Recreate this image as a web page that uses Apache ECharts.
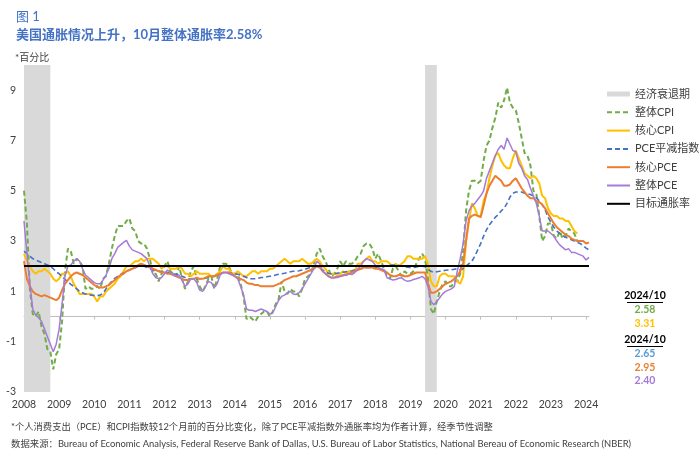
<!DOCTYPE html>
<html><head><meta charset="utf-8">
<script src="https://cdn.jsdelivr.net/npm/echarts@6/dist/echarts.min.js"></script>
<style>html,body{margin:0;padding:0;background:#fff}#c{width:700px;height:456px}</style>
</head><body><div id="c"></div>
<script>
// ---------------- DATA ----------------
// Monthly observations, first month = 2008-09
const firstYear = 2008, firstMonth = 9, monthCount = 194; // through 2024-10
const categories = [];
for (let i = 0; i < monthCount; i++) {
  const m = firstMonth - 1 + i;
  const y = firstYear + Math.floor(m / 12);
  const mm = (m % 12) + 1;
  categories.push(y + '-' + (mm < 10 ? '0' + mm : mm));
}

// 整体CPI (ends 2024-06 in the picture)
const cpiHeadline = [
  5.0, 3.7, 1.1, 0.1,
  0.0, 0.2, -0.4, -0.7, -1.3, -1.4, -2.1, -1.5, -1.3, -0.2, 1.8, 2.7,
  2.6, 2.1, 2.3, 2.2, 2.0, 1.1, 1.2, 1.1, 1.1, 1.2, 1.1, 1.5,
  1.6, 2.1, 2.7, 3.2, 3.6, 3.6, 3.6, 3.8, 3.9, 3.5, 3.4, 3.0,
  2.9, 2.9, 2.7, 2.3, 1.7, 1.7, 1.4, 1.7, 2.0, 2.2, 1.8, 1.7,
  1.6, 2.0, 1.5, 1.1, 1.4, 1.8, 2.0, 1.5, 1.2, 1.0, 1.2, 1.5,
  1.6, 1.1, 1.5, 2.0, 2.1, 2.1, 2.0, 1.7, 1.7, 1.7, 1.3, 0.8,
  -0.1, 0.0, -0.1, -0.2, 0.0, 0.1, 0.2, 0.2, 0.0, 0.2, 0.5, 0.7,
  1.4, 1.0, 0.9, 1.1, 1.0, 1.0, 0.8, 1.1, 1.5, 1.6, 1.7, 2.1,
  2.5, 2.7, 2.4, 2.2, 1.9, 1.6, 1.7, 1.9, 2.2, 2.0, 2.2, 2.1,
  2.1, 2.2, 2.4, 2.5, 2.8, 2.9, 2.9, 2.7, 2.3, 2.5, 2.2, 1.9,
  1.6, 1.5, 1.9, 2.0, 1.8, 1.6, 1.8, 1.7, 1.7, 1.8, 2.1, 2.3,
  2.5, 2.3, 1.5, 0.3, 0.1, 0.6, 1.0, 1.3, 1.4, 1.2, 1.2, 1.4,
  1.4, 1.7, 2.6, 4.2, 5.0, 5.4, 5.4, 5.3, 5.4, 6.2, 6.8, 7.0,
  7.5, 7.9, 8.5, 8.3, 8.6, 9.1, 8.5, 8.3, 8.2, 7.7, 7.1, 6.5,
  6.4, 6.0, 5.0, 4.9, 4.0, 3.0, 3.2, 3.7, 3.7, 3.2, 3.1, 3.4,
  3.1, 3.2, 3.5, 3.4, 3.3, 3.0
];

// 核心CPI
const cpiCore = [
  2.5, 2.2, 2.0, 1.8,
  1.7, 1.8, 1.8, 1.9, 1.8, 1.7, 1.5, 1.4, 1.5, 1.7, 1.7, 1.8,
  1.6, 1.3, 1.1, 0.9, 0.9, 0.9, 0.9, 0.9, 0.8, 0.6, 0.8, 0.8,
  1.0, 1.1, 1.2, 1.3, 1.5, 1.6, 1.8, 2.0, 2.0, 2.1, 2.2, 2.2,
  2.3, 2.2, 2.3, 2.3, 2.3, 2.2, 2.1, 1.9, 2.0, 2.0, 1.9, 1.9,
  1.9, 2.0, 1.9, 1.7, 1.7, 1.6, 1.7, 1.8, 1.7, 1.7, 1.7, 1.7,
  1.6, 1.6, 1.7, 1.8, 2.0, 1.9, 1.9, 1.7, 1.7, 1.8, 1.7, 1.6,
  1.6, 1.7, 1.8, 1.8, 1.7, 1.8, 1.8, 1.8, 1.9, 1.9, 2.0, 2.1,
  2.2, 2.3, 2.2, 2.1, 2.2, 2.2, 2.2, 2.3, 2.2, 2.1, 2.1, 2.2,
  2.3, 2.2, 2.0, 1.9, 1.7, 1.7, 1.7, 1.7, 1.7, 1.8, 1.7, 1.8,
  1.8, 1.8, 2.1, 2.1, 2.2, 2.3, 2.4, 2.2, 2.2, 2.1, 2.2, 2.2,
  2.2, 2.1, 2.0, 2.1, 2.0, 2.1, 2.2, 2.4, 2.4, 2.3, 2.3, 2.3,
  2.3, 2.4, 2.1, 1.4, 1.2, 1.2, 1.6, 1.7, 1.7, 1.6, 1.6, 1.6,
  1.4, 1.3, 1.6, 3.0, 3.8, 4.5, 4.3, 4.0, 4.0, 4.6, 4.9, 5.5,
  6.0, 6.4, 6.5, 6.2, 6.0, 5.9, 5.9, 6.3, 6.6, 6.3, 6.0, 5.7,
  5.6, 5.5, 5.6, 5.5, 5.3, 4.8, 4.7, 4.3, 4.1, 4.0, 4.0, 3.9,
  3.9, 3.8, 3.8, 3.6, 3.4, 3.3
];

// PCE平减指数
const pceDeflator = [
  2.6, 2.5, 2.4, 2.3,
  2.25, 2.2, 2.15, 2.1, 2.05, 2.0, 1.9, 1.78, 1.7, 1.6, 1.48, 1.38,
  1.28, 1.2, 1.1, 1.0, 0.95, 0.9, 0.87, 0.85, 0.84, 0.83, 0.85, 0.92,
  1.1, 1.27, 1.4, 1.52, 1.6, 1.67, 1.73, 1.8, 1.85, 1.9, 1.94, 2.0,
  2.0, 2.0, 1.95, 1.9, 1.85, 1.8, 1.8, 1.8, 1.78, 1.75, 1.72, 1.7,
  1.68, 1.65, 1.6, 1.55, 1.5, 1.5, 1.5, 1.5, 1.5, 1.5, 1.52, 1.55,
  1.58, 1.6, 1.65, 1.7, 1.74, 1.75, 1.75, 1.72, 1.7, 1.68, 1.65, 1.6,
  1.55, 1.5, 1.5, 1.5, 1.52, 1.55, 1.55, 1.58, 1.6, 1.62, 1.65, 1.68,
  1.7, 1.72, 1.75, 1.78, 1.8, 1.8, 1.82, 1.85, 1.88, 1.92, 1.96, 2.0,
  2.0, 1.95, 1.85, 1.78, 1.72, 1.7, 1.7, 1.72, 1.74, 1.76, 1.78, 1.8,
  1.82, 1.85, 1.88, 1.9, 1.92, 1.94, 1.95, 1.95, 1.95, 1.96, 1.98, 2.0,
  2.02, 2.04, 2.05, 2.05, 2.03, 2.0, 1.98, 1.96, 1.95, 1.95, 1.97, 2.0,
  2.0, 1.98, 1.88, 1.8, 1.76, 1.78, 1.8, 1.82, 1.84, 1.85, 1.86, 1.88,
  1.9, 1.85, 1.9, 2.0, 2.1, 2.2, 2.4, 2.65, 2.9, 3.2, 3.45, 3.65,
  3.8, 3.95, 4.05, 4.2, 4.3, 4.5, 4.75, 4.9, 4.95, 4.95, 4.95, 4.9,
  4.88, 4.85, 4.8, 4.72, 4.6, 4.45, 4.25, 3.95, 3.75, 3.55, 3.4, 3.3,
  3.22, 3.15, 3.1, 3.05, 3.0, 2.95, 2.9, 2.82, 2.72, 2.65
];

// 核心PCE
const pceCore = [
  2.2, 1.5, 1.2, 1.0,
  0.9, 0.85, 0.8, 0.85, 0.8, 0.75, 0.7, 0.65, 0.75, 1.05, 1.3, 1.45,
  1.6, 1.7, 1.75, 1.7, 1.65, 1.55, 1.45, 1.35, 1.25, 1.2, 1.15, 1.15,
  1.2, 1.25, 1.35, 1.45, 1.55, 1.65, 1.7, 1.8, 1.85, 1.9, 1.95, 2.05,
  2.1, 2.05, 2.0, 1.95, 1.9, 1.85, 1.8, 1.75, 1.75, 1.7, 1.7, 1.65,
  1.6, 1.55, 1.5, 1.45, 1.45, 1.5, 1.5, 1.55, 1.5, 1.5, 1.55, 1.6,
  1.6, 1.6, 1.65, 1.7, 1.75, 1.75, 1.75, 1.7, 1.6, 1.55, 1.5, 1.45,
  1.35, 1.3, 1.3, 1.25, 1.25, 1.2, 1.2, 1.2, 1.2, 1.2, 1.25, 1.3,
  1.35, 1.45, 1.5, 1.55, 1.6, 1.6, 1.65, 1.7, 1.75, 1.8, 1.85, 1.9,
  2.0, 1.95, 1.8, 1.7, 1.6, 1.55, 1.55, 1.6, 1.6, 1.65, 1.65, 1.7,
  1.75, 1.8, 1.85, 1.9, 1.95, 1.95, 1.95, 1.95, 1.9, 1.9, 1.85, 1.8,
  1.75, 1.65, 1.6, 1.6, 1.65, 1.65, 1.6, 1.6, 1.65, 1.7, 1.75, 1.75,
  1.75, 1.75, 1.3, 0.95, 0.95, 1.0, 1.1, 1.2, 1.3, 1.35, 1.4, 1.5,
  1.6, 1.8, 2.1, 3.0, 3.9, 4.0, 4.05, 4.0, 3.95, 4.4, 4.9, 5.2,
  5.4, 5.6, 5.5, 5.4, 5.2, 5.2, 5.25, 5.4, 5.5, 5.3, 5.1, 4.95,
  4.8, 4.7, 4.7, 4.6, 4.55, 4.45, 4.3, 4.1, 3.9, 3.7, 3.55, 3.45,
  3.35, 3.25, 3.2, 3.1, 3.05, 3.0, 3.0, 3.0, 2.9, 2.95
];

// 整体PCE
const pceHeadline = [
  3.8, 2.5, 1.3, 0.3,
  0.05, -0.05, -0.2, -0.5, -0.8, -1.1, -1.4, -1.1, -0.5, 0.5, 1.6, 2.0,
  2.05, 2.2, 2.3, 2.2, 1.9, 1.65, 1.55, 1.45, 1.35, 1.3, 1.3, 1.45,
  1.65, 1.9, 2.3, 2.5, 2.75, 2.85, 2.95, 3.03, 2.8, 2.65, 2.6, 2.55,
  2.5, 2.4, 2.3, 2.0, 1.7, 1.55, 1.5, 1.55, 1.7, 1.85, 1.75, 1.65,
  1.6, 1.65, 1.45, 1.2, 1.3, 1.5, 1.5, 1.35, 1.05, 1.0, 1.2, 1.4,
  1.35, 1.15, 1.3, 1.65, 1.75, 1.75, 1.7, 1.65, 1.6, 1.5, 1.2, 0.85,
  0.3, 0.25, 0.25, 0.2, 0.25, 0.3, 0.25, 0.2, 0.1, 0.15, 0.4, 0.65,
  0.8, 0.85, 0.95, 1.0, 0.9, 0.88, 0.95, 1.1, 1.3, 1.5, 1.7, 1.9,
  2.2, 2.1, 1.8, 1.7, 1.6, 1.54, 1.54, 1.55, 1.6, 1.62, 1.65, 1.7,
  1.67, 1.75, 1.9, 2.0, 2.2, 2.3, 2.25, 2.2, 2.05, 1.95, 1.9, 1.86,
  1.54, 1.5, 1.45, 1.47, 1.52, 1.54, 1.45, 1.4, 1.42, 1.47, 1.5, 1.54,
  1.6, 1.5, 1.2, 0.6, 0.47, 0.6, 0.75, 0.9, 1.0, 1.05, 1.1, 1.2,
  1.8, 2.3, 2.9, 3.8, 4.2, 4.4, 4.5, 4.65, 4.8, 5.0, 5.5, 5.8,
  6.1, 6.4, 6.65, 6.8, 6.65, 7.1, 6.85, 6.6, 6.55, 6.1, 5.9, 5.6,
  5.45, 5.1, 4.8, 4.5, 4.0, 3.4, 3.4, 3.4, 3.3, 3.2, 3.0, 2.85,
  2.75, 2.65, 2.7, 2.55, 2.55, 2.5, 2.45, 2.4, 2.25, 2.35
];

const targetRate = 2;
const recessions = [['2008-09', '2009-06'], ['2020-02', '2020-06']];

// right-side annotation
const annoHeader = '2024/10';
const annoCpiValues = ['2.58', '3.31'];
const annoPceValues = ['2.65', '2.95', '2.40'];

// ---------------- STYLE ----------------
const FONT = "Lato, 'Noto Sans CJK SC', sans-serif";
const C = {
  green: '#70AD47', yellow: '#FFC000', blue: '#4472C4',
  orange: '#ED7D31', purple: '#A57BD8', black: '#000000', gray: '#D9D9D9',
  title: '#4472C4', text: '#404040'
};

function lineSeries(name, data, color, width, dashed) {
  return {
    name, type: 'line', data, symbol: 'none', showSymbol: false,
    lineStyle: { color, width, type: dashed ? [5, 3] : 'solid' },
    itemStyle: { color }, emphasis: { disabled: true }, silent: true
  };
}

const annoX = 645;
const annoItems = [
  { t: annoHeader, y: 296, c: '#000', header: true },
  { t: annoCpiValues[0], y: 310, c: C.green },
  { t: annoCpiValues[1], y: 324, c: C.yellow },
  { t: annoHeader, y: 340, c: '#000', header: true },
  { t: annoPceValues[0], y: 354, c: '#5B9BD5' },
  { t: annoPceValues[1], y: 368, c: C.orange },
  { t: annoPceValues[2], y: 381, c: C.purple }
];
const graphics = [];
annoItems.forEach(a => {
  graphics.push({
    type: 'text', x: annoX, y: a.y,
    style: { text: a.t, fill: a.c, font: 'bold 10.5px ' + FONT, textAlign: 'center', textVerticalAlign: 'middle' }
  });
  if (a.header) {
    graphics.push({ type: 'line', shape: { x1: annoX - 18, y1: a.y + 6.5, x2: annoX + 18, y2: a.y + 6.5 },
      style: { stroke: '#000', lineWidth: 1 } });
  }
});

const legendNames = ['整体CPI', '核心CPI', 'PCE平减指数', '核心PCE', '整体PCE', '目标通胀率'];

const chart = echarts.init(document.getElementById('c'), null, { renderer: 'canvas' });
chart.setOption({
  animation: false,
  backgroundColor: '#ffffff',
  textStyle: { fontFamily: FONT },
  title: [
    { text: '图 1', left: 11, top: 5, textStyle: { fontSize: 13, fontWeight: 'normal', color: C.title, fontFamily: FONT } },
    { text: '{a|美国通胀情况上升，}{b|10月整体通胀率2.58%}', left: 11, top: 23,
      textStyle: { rich: {
        a: { fontSize: 13, color: C.title, fontFamily: FONT },
        b: { fontSize: 13, color: C.title, fontWeight: 'bold', fontFamily: FONT } } } },
    { text: '*百分比', left: 10, top: 48, textStyle: { fontSize: 10, fontWeight: 'normal', color: C.text, fontFamily: FONT } },
    { text: '*个人消费支出（PCE）和CPI指数较12个月前的百分比变化，除了PCE平减指数外通胀率均为作者计算，经季节性调整',
      left: 6, top: 417, textStyle: { fontSize: 9.3, fontWeight: 'normal', color: C.text, fontFamily: FONT } },
    { text: '数据来源：Bureau of Economic Analysis, Federal Reserve Bank of Dallas, U.S. Bureau of Labor Statistics, National Bereau of Economic Research (NBER)',
      left: 6, top: 434, textStyle: { fontSize: 9.4, fontWeight: 'normal', color: C.text, fontFamily: FONT } }
  ],
  legend: {
    orient: 'vertical', left: 601, top: 82, itemWidth: 23, itemHeight: 5, itemGap: 4.3,
    textStyle: { fontSize: 11, color: C.text, lineHeight: 14, fontFamily: FONT },
    selectedMode: false,
    itemStyle: { opacity: 0 },
    data: [{ name: '经济衰退期', icon: 'rect', itemStyle: { color: C.gray, opacity: 1 } }]
      .concat(legendNames.map(n => ({ name: n, itemStyle: { opacity: 0 } })))
  },
  grid: { left: 24, right: 111, top: 65, bottom: 64, containLabel: false, outerBoundsMode: 'none' },
  xAxis: {
    type: 'category', data: categories, boundaryGap: false,
    axisLine: { show: true, lineStyle: { color: '#BFBFBF', width: 1 } },
    axisTick: { show: true, interval: 11, length: 3, lineStyle: { color: '#BFBFBF' } },
    axisLabel: { interval: 11, formatter: v => v.slice(0, 4), fontSize: 10.5, color: C.text, margin: 7, fontFamily: FONT },
    splitLine: { show: false }
  },
  yAxis: {
    type: 'value', min: -3, max: 10, interval: 1,
    axisLabel: { formatter: v => (Math.abs(v) % 2 === 1 ? String(v) : ''), fontSize: 10.5, color: C.text, margin: 8, fontFamily: FONT },
    axisLine: { show: false }, axisTick: { show: false }, splitLine: { show: false }
  },
  series: [
    { name: '经济衰退期', type: 'line', data: [], symbol: 'none', color: C.gray,
      itemStyle: { color: C.gray }, lineStyle: { color: C.gray },
      markArea: { silent: true, itemStyle: { color: C.gray }, data: recessions.map(r => [{ xAxis: r[0] }, { xAxis: r[1] }]) } },
    lineSeries('整体CPI', cpiHeadline, C.green, 2, true),
    lineSeries('核心CPI', cpiCore, C.yellow, 2, false),
    lineSeries('PCE平减指数', pceDeflator, C.blue, 1.6, true),
    lineSeries('核心PCE', pceCore, C.orange, 2, false),
    lineSeries('整体PCE', pceHeadline, C.purple, 1.5, false),
    { name: '目标通胀率', type: 'line', data: [], symbol: 'none', color: C.black,
      lineStyle: { color: C.black, width: 2 }, itemStyle: { color: C.black },
      markLine: { silent: true, symbol: 'none', label: { show: false },
        lineStyle: { color: C.black, width: 2, type: 'solid' }, data: [{ yAxis: targetRate }] } }
  ],
  graphic: graphics
});
</script>
</body></html>
